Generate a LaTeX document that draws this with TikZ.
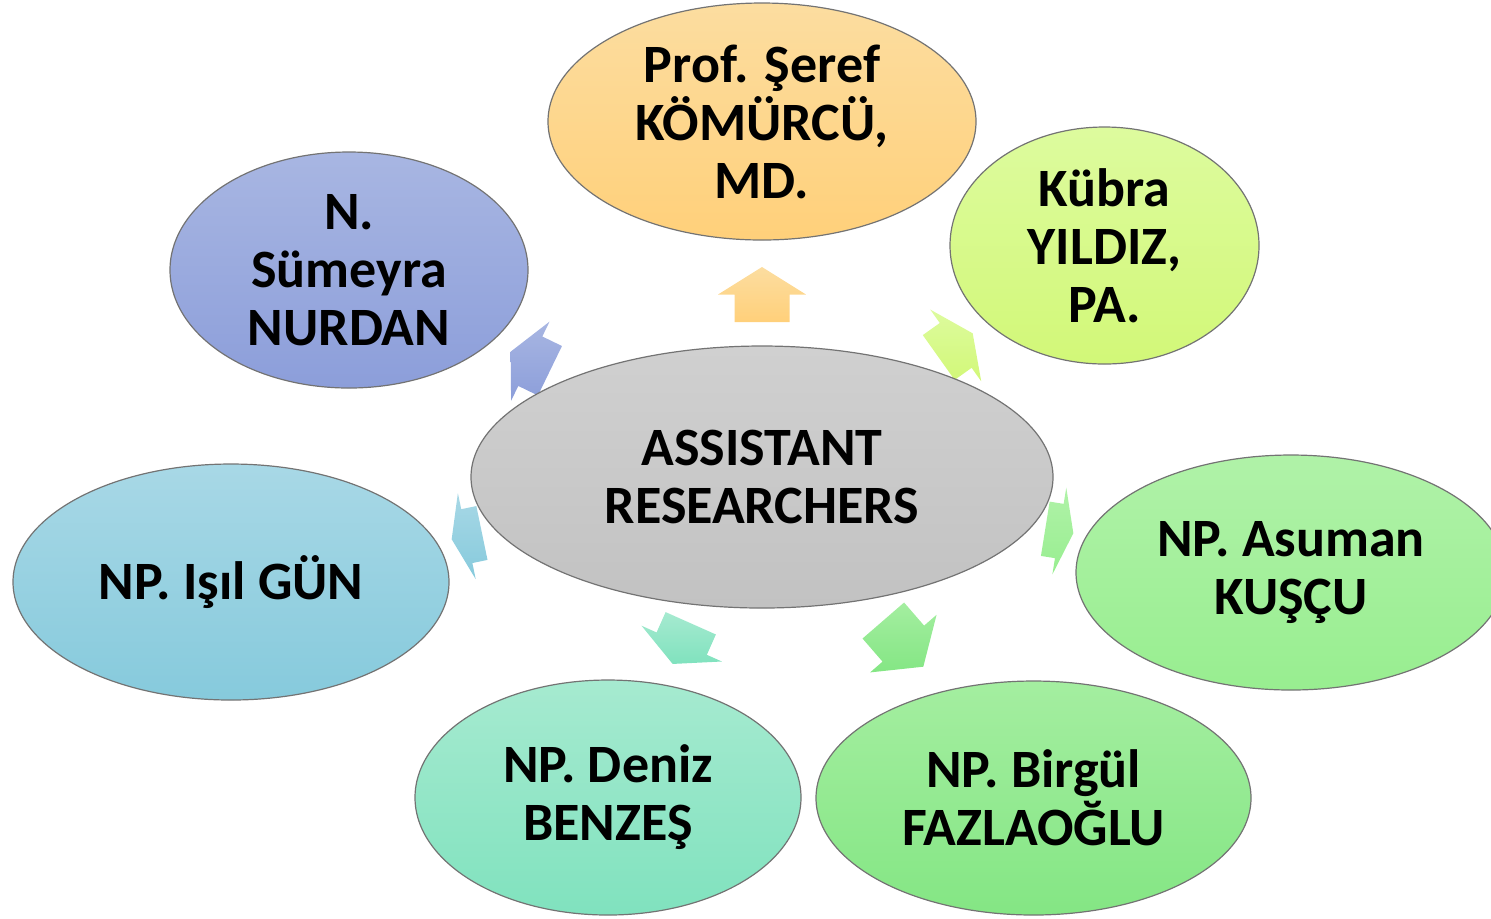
\documentclass[tikz,border=0pt]{standalone}
\usepackage{fontspec}
\setmainfont{Carlito}
\definecolor{ortop}{HTML}{FCDDA0}\definecolor{orbot}{HTML}{FFD07A}
\definecolor{kutop}{HTML}{DDFB9E}\definecolor{kubot}{HTML}{D2F878}
\definecolor{astop}{HTML}{B0F2A8}\definecolor{asbot}{HTML}{98EE90}
\definecolor{bitop}{HTML}{A4EEA0}\definecolor{bibot}{HTML}{84E684}
\definecolor{detop}{HTML}{A6EAD0}\definecolor{debot}{HTML}{80E2BE}
\definecolor{istop}{HTML}{A8D8E6}\definecolor{isbot}{HTML}{86CADC}
\definecolor{sutop}{HTML}{A8B6E2}\definecolor{subot}{HTML}{8C9EDA}
\definecolor{cetop}{HTML}{D0D0D0}\definecolor{cebot}{HTML}{C2C2C2}
\newcommand\blockarr[5]{%
  \shade[top color=#4, bottom color=#5, shift={#1}, rotate=#2]
    (#3/2,0) -- (0,44) -- (0,27.5) -- (-#3/2,27.5) -- (-#3/2,-27.5) -- (0,-27.5) -- (0,-44) -- cycle;}
\begin{document}
\begin{tikzpicture}[x=0.5pt,y=-0.5pt,
  lbl/.style={font=\fontsize{27}{29}\selectfont\bfseries, align=center, text=black},
  rim/.style={draw=black!55, line width=0.6pt}]
\useasboundingbox (0,0) rectangle (1491,918);
\clip (0,0) rectangle (1491,918);
% block arrows: center, angle, length, top colour, bottom colour
\blockarr{(762,294.5)}{90}{55}{ortop}{orbot}
\blockarr{(955.7,345.4)}{35.4}{41.7}{kutop}{kubot}
\blockarr{(1059.3,531)}{-9.1}{28.4}{astop}{asbot}
\blockarr{(903.3,643.6)}{-49.1}{61.1}{bitop}{bibot}
\blockarr{(681.7,643.6)}{-114}{44.5}{detop}{debot}
\blockarr{(466.8,536.1)}{191.7}{30.9}{istop}{isbot}
\blockarr{(530.3,361.2)}{154.1}{43.7}{sutop}{subot}
% ellipses
\shade[rim, top color=cetop, bottom color=cebot] (762,477) ellipse [x radius=291, y radius=131];
\shade[rim, top color=ortop, bottom color=orbot] (762,121.5) ellipse [x radius=214, y radius=118.5];
\shade[rim, top color=kutop, bottom color=kubot] (1104.5,245.5) ellipse [x radius=154.5, y radius=118.5];
\shade[rim, top color=sutop, bottom color=subot] (349,270) ellipse [x radius=179, y radius=118];
\shade[rim, top color=istop, bottom color=isbot] (231,582) ellipse [x radius=218, y radius=118];
\shade[rim, top color=astop, bottom color=asbot] (1291,572.5) ellipse [x radius=215, y radius=117.5];
\shade[rim, top color=detop, bottom color=debot] (608,797.5) ellipse [x radius=193, y radius=117.5];
\shade[rim, top color=bitop, bottom color=bibot] (1033.5,798) ellipse [x radius=217.5, y radius=117];
% labels
\node[lbl] (center) at (762,477) {ASSISTANT\\RESEARCHERS};
\node[lbl] (seref) at (762,121.5) {Prof. Şeref\\KÖMÜRCÜ,\\MD.};
\node[lbl] (kubra) at (1104.5,245.5) {Kübra\\YILDIZ,\\PA.};
\node[lbl] (sumeyra) at (349,270) {N.\\Sümeyra\\NURDAN};
\node[lbl] (isil) at (231,582) {NP. Işıl GÜN};
\node[lbl] (asuman) at (1291,572.5) {NP. Asuman\\KUŞÇU};
\node[lbl] (deniz) at (608,797.5) {NP. Deniz\\BENZEŞ};
\node[lbl] (birgul) at (1033.5,798) {NP. Birgül\\FAZLAOĞLU};
\end{tikzpicture}
\end{document}
